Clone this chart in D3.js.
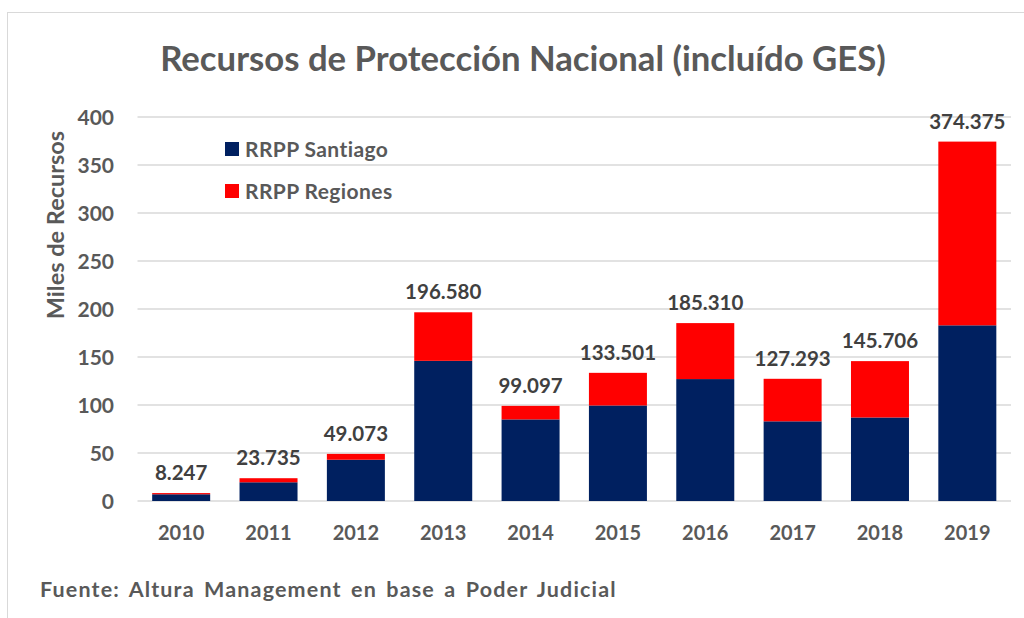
<!DOCTYPE html>
<html>
<head>
<meta charset="utf-8">
<script src="https://cdn.jsdelivr.net/npm/d3@7"></script>
<style>
  html, body { margin: 0; padding: 0; background: #fff; }
  svg { display: block; font-family: Lato, 'Open Sans', sans-serif; font-weight: bold; }
</style>
</head>
<body>
<div id="app"></div>
<script>
const years = ['2010', '2011', '2012', '2013', '2014', '2015', '2016', '2017', '2018', '2019']
const santiago = [7, 19.5, 43, 146, 85, 99.5, 127, 83, 87, 183]
const regiones = [1.247, 4.235, 6.073, 50.58, 14.097, 34.0, 58.31, 44.293, 58.706, 191.375]
const totalLabels = ['8.247', '23.735', '49.073', '196.580', '99.097', '133.501', '185.310', '127.293', '145.706', '374.375']
const yTicks = [0, 50, 100, 150, 200, 250, 300, 350, 400]
const seriesNames = ['RRPP Santiago', 'RRPP Regiones']

const colors = {
  'RRPP Santiago': '#002060',
  'RRPP Regiones': '#ff0000'
}

const width = 1024
const height = 618

const svg = d3.select('#app')
  .append('svg')
  .attr('width', width)
  .attr('height', height)

// chart frame
svg.append('rect')
  .attr('x', 7.5)
  .attr('y', 12.5)
  .attr('width', 1030)
  .attr('height', 640)
  .attr('fill', 'none')
  .attr('stroke', '#d9d9d9')

const x = d3.scaleBand()
  .domain(years)
  .range([137.5, 1011])
  .paddingInner(0.336)
  .paddingOuter(0.168)

const y = d3.scaleLinear()
  .domain([0, 400])
  .range([501, 117])

const rows = years.map((yr, i) => ({
  year: yr,
  'RRPP Santiago': santiago[i],
  'RRPP Regiones': regiones[i],
  label: totalLabels[i]
}))

const stacked = d3.stack().keys(seriesNames)(rows)

// grid
svg.append('g')
  .selectAll('line')
  .data(yTicks)
  .join('line')
  .attr('x1', 137.5)
  .attr('x2', 1011)
  .attr('y1', d => y(d))
  .attr('y2', d => y(d))
  .attr('stroke', '#d9d9d9')
  .attr('stroke-width', 1.5)

// y tick labels
svg.append('g')
  .selectAll('text')
  .data(yTicks)
  .join('text')
  .attr('x', 114)
  .attr('y', d => y(d))
  .attr('dy', '0.36em')
  .attr('text-anchor', 'end')
  .attr('fill', '#595959')
  .attr('font-size', 21)
  .text(d => d)

// bars
svg.append('g')
  .selectAll('g')
  .data(stacked)
  .join('g')
  .attr('fill', d => colors[d.key])
  .selectAll('rect')
  .data(d => d)
  .join('rect')
  .attr('x', d => x(d.data.year))
  .attr('y', d => y(d[1]))
  .attr('width', x.bandwidth())
  .attr('height', d => y(d[0]) - y(d[1]))

// total labels
svg.append('g')
  .selectAll('text')
  .data(stacked[stacked.length - 1])
  .join('text')
  .attr('x', d => x(d.data.year) + x.bandwidth() / 2)
  .attr('y', d => y(d[1]) - 13)
  .attr('text-anchor', 'middle')
  .attr('fill', '#404040')
  .attr('font-size', 20.5)
  .text(d => d.data.label)

// x labels
svg.append('g')
  .selectAll('text')
  .data(years)
  .join('text')
  .attr('x', d => x(d) + x.bandwidth() / 2)
  .attr('y', 540)
  .attr('text-anchor', 'middle')
  .attr('fill', '#595959')
  .attr('font-size', 20)
  .text(d => d)

// title
svg.append('text')
  .attr('x', 523)
  .attr('y', 71)
  .attr('text-anchor', 'middle')
  .attr('fill', '#595959')
  .attr('font-size', 34.7)
  .text('Recursos de Protección Nacional (incluído GES)')

// y axis title
svg.append('text')
  .attr('transform', 'translate(64,225) rotate(-90)')
  .attr('text-anchor', 'middle')
  .attr('fill', '#595959')
  .attr('font-size', 23.5)
  .text('Miles de Recursos')

// legend
const legend = svg.append('g')
  .selectAll('g')
  .data(seriesNames)
  .join('g')
  .attr('transform', (d, i) => `translate(225,${142 + i * 42})`)

legend.append('rect')
  .attr('width', 14)
  .attr('height', 14)
  .attr('fill', d => colors[d])

legend.append('text')
  .attr('x', 20)
  .attr('y', 14.5)
  .attr('fill', '#595959')
  .attr('font-size', 21)
  .attr('letter-spacing', 0.4)
  .text(d => d)

// source
svg.append('text')
  .attr('x', 40)
  .attr('y', 597)
  .attr('fill', '#595959')
  .attr('font-size', 21.5)
  .attr('letter-spacing', 1.15)
  .attr('word-spacing', 3)
  .text('Fuente: Altura Management en base a Poder Judicial')
</script>
</body>
</html>
